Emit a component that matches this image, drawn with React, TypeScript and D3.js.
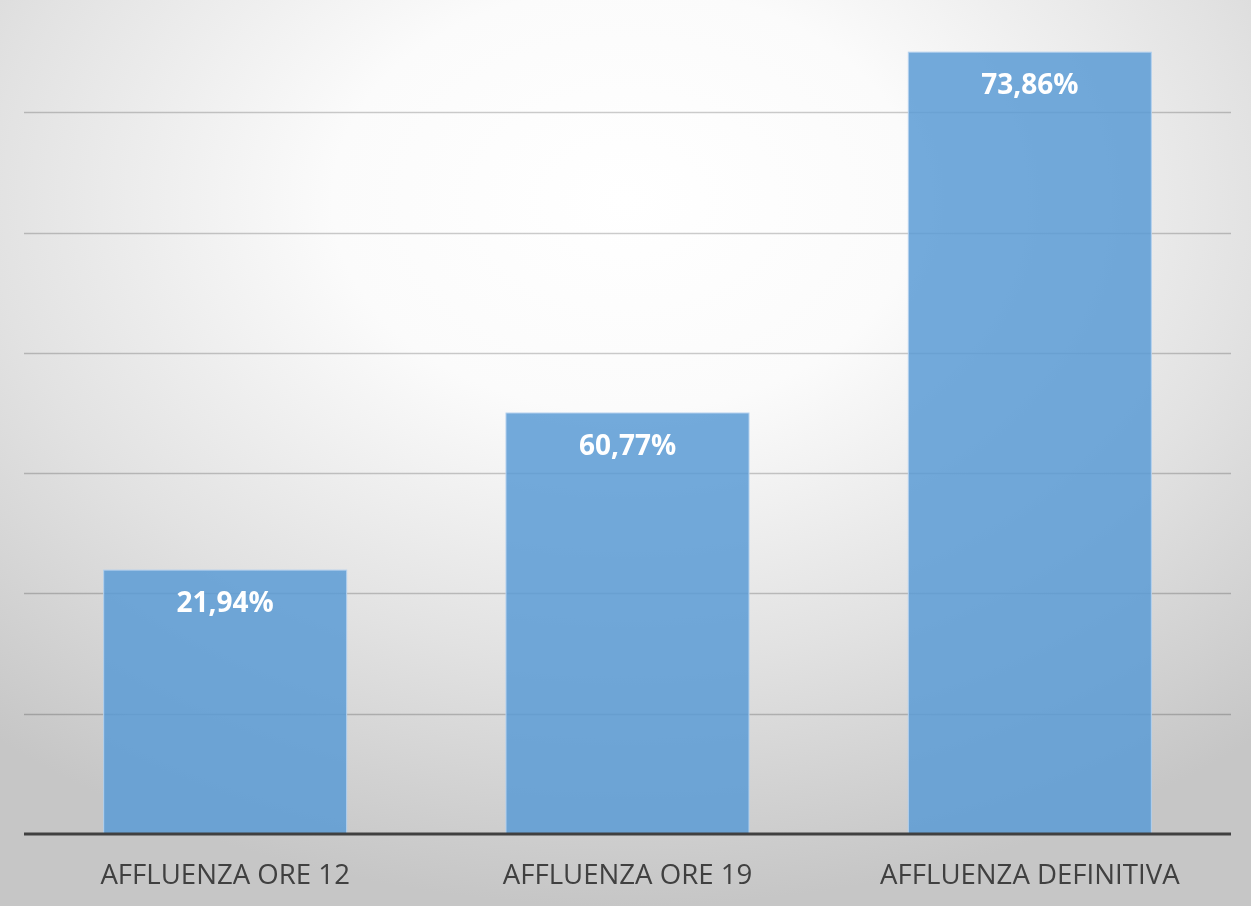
import React from "react";
import * as d3 from "d3";

const categories = ["AFFLUENZA ORE 12", "AFFLUENZA ORE 19", "AFFLUENZA DEFINITIVA"];
// bar heights as drawn in the picture (axis units, gridline every 10)
const barValues = [21.94, 35.0, 65.0];
// data labels as printed on the bars
const dataLabels = ["21,94%", "60,77%", "73,86%"];
const gridTicks = [10, 20, 30, 40, 50, 60];

const W = 1251;
const H = 906;
const plotLeft = 24;
const plotRight = 1231;
const baseY = 834;

export default function App() {
  const x = d3
    .scaleBand<string>()
    .domain(categories)
    .range([plotLeft, plotRight])
    .paddingInner(0.396)
    .paddingOuter(0.198);
  const y = d3.scaleLinear().domain([0, 60]).range([baseY, 112.3]);

  return (
    <svg
      width={W}
      height={H}
      style={{ position: "fixed", left: 0, top: 0, display: "block" }}
      xmlns="http://www.w3.org/2000/svg"
    >
      <defs>
        <radialGradient id="bg" cx="0.5" cy="0.22" r="0.78" fx="0.5" fy="0.22" gradientUnits="objectBoundingBox">
          <stop offset="0" stopColor="#ffffff" />
          <stop offset="0.3" stopColor="#fbfbfb" />
          <stop offset="0.65" stopColor="#e2e2e2" />
          <stop offset="1" stopColor="#c6c6c6" />
        </radialGradient>
      </defs>
      <rect x={0} y={0} width={W} height={H} fill="url(#bg)" />
      <g>
        {gridTicks.map((t) => (
          <line
            key={t}
            x1={plotLeft}
            x2={plotRight}
            y1={Math.round(y(t)) + 0.5}
            y2={Math.round(y(t)) + 0.5}
            stroke="#000000"
            strokeOpacity={0.2}
            strokeWidth={1.4}
          />
        ))}
      </g>
      <g>
        {categories.map((c, i) => (
          <rect
            key={c}
            x={x(c)}
            y={y(barValues[i])}
            width={x.bandwidth()}
            height={baseY - y(barValues[i])}
            fill="#5b9bd5"
            fillOpacity={0.85}
            stroke="#b4d1ee"
            strokeWidth={1}
          />
        ))}
      </g>
      <line x1={plotLeft} x2={plotRight} y1={baseY} y2={baseY} stroke="#404040" strokeWidth={3} />
      <g>
        {categories.map((c, i) => (
          <text
            key={c}
            x={(x(c) as number) + x.bandwidth() / 2}
            y={y(barValues[i]) + 42}
            textAnchor="middle"
            fill="#ffffff"
            fontFamily="'Open Sans', sans-serif"
            fontWeight={700}
            fontSize={28}
          >
            {dataLabels[i]}
          </text>
        ))}
      </g>
      <g>
        {categories.map((c) => (
          <text
            key={c}
            x={(x(c) as number) + x.bandwidth() / 2}
            y={884}
            textAnchor="middle"
            fill="#404040"
            fontFamily="'Open Sans', sans-serif"
            fontSize={27.6}
          >
            {c}
          </text>
        ))}
      </g>
    </svg>
  );
}
